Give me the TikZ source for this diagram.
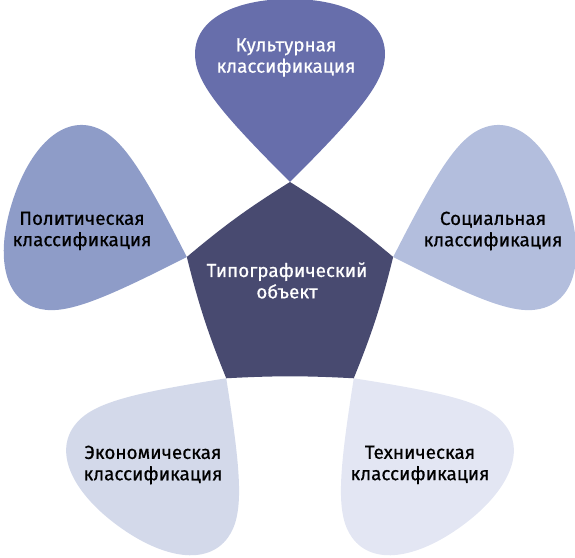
\documentclass[tikz,border=0pt]{standalone}
\usepackage{fontspec}
\setmainfont{Fira Sans}
\newfontfamily\lblfont{Fira Sans}[FakeBold=0.6]
\usetikzlibrary{shapes}
\definecolor{pentcol}{HTML}{484A70}
\definecolor{kultcol}{HTML}{676EAB}
\definecolor{politcol}{HTML}{8E9CC8}
\definecolor{soccol}{HTML}{B3BEDD}
\definecolor{ekoncol}{HTML}{D3D9EA}
\definecolor{techcol}{HTML}{E3E6F3}
\begin{document}
\begin{tikzpicture}[x=0.025cm,y=0.025cm,
  lbl/.style={align=center,inner sep=0pt,font=\lblfont\fontsize{13.4}{15.2}\selectfont},
  pics/petal/.style={code={\fill[#1] (0,0) .. controls (-70,70) and (-95,100) .. (-95,128) .. controls (-95,163) and (-55,183) .. (0,183) .. controls (55,183) and (95,163) .. (95,128) .. controls (95,100) and (70,70) .. (0,0) -- cycle;}}]
\useasboundingbox (0,0) rectangle (575,558);
\coordinate (v0) at (290,376);
\coordinate (v1) at (186.81,301.03);
\coordinate (v2) at (226.22,179.72);
\coordinate (v3) at (353.78,179.72);
\coordinate (v4) at (393.19,301.03);

\pic at (v0) {petal=kultcol};
\pic[rotate=72] at (v1) {petal=politcol};
\pic[rotate=144] at (v2) {petal=ekoncol};
\pic[rotate=216] at (v3) {petal=techcol};
\pic[rotate=288] at (v4) {petal=soccol};
\fill[pentcol] (v0) to[bend right=4] (v1) to[bend right=4] (v2) to[bend left=3] (v3) to[bend right=4] (v4) to[bend right=4] (v0) -- cycle;

\node[lbl,text=white] (0) at (287,277.5) {Типографический\\объект};
\node[lbl,text=white] (1) at (286,500.5) {Культурная\\классификация};
\node[lbl,text=black] (2) at (82,327) {Политическая\\классификация};
\node[lbl,text=black] (3) at (493,327) {Социальная\\классификация};
\node[lbl,text=black] (4) at (153,93) {Экономическая\\классификация};
\node[lbl,text=black] (5) at (420,93) {Техническая\\классификация};

\end{tikzpicture}
\end{document}
